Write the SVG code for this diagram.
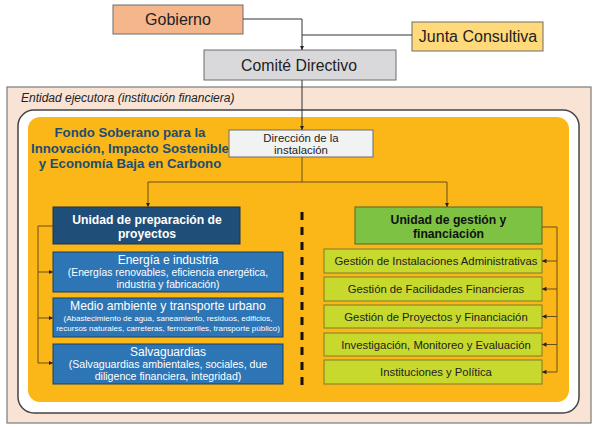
<svg xmlns="http://www.w3.org/2000/svg" width="600" height="427" viewBox="0 0 600 427">
<defs>
<style>
text{font-family:"Liberation Sans",Arial,Helvetica,sans-serif;}
.c{text-anchor:middle;}
.box{stroke:#6d6d6d;stroke-width:1;}
.blue{fill:#2e75b6;stroke:#1b3f63;stroke-width:1;}
.lime{fill:#c7d92c;stroke:#7f7a2a;stroke-width:1;}
.wt{fill:#ffffff;}
.lt{font-size:11.3px;fill:#222;text-anchor:middle;}
.conn{fill:none;stroke:#333;stroke-width:1;}
.conn2{fill:none;stroke:#6b4e16;stroke-width:1;}
</style>
<marker id="ar" viewBox="0 0 10 10" refX="10" refY="5" markerWidth="4.5" markerHeight="4.5" orient="auto">
<path d="M0,0 L10,5 L0,10 z" fill="#222"/>
</marker>
</defs>
<rect width="600" height="427" fill="#ffffff"/>
<!-- containers -->
<g id="entidad">
<rect x="7" y="87" width="584" height="336" fill="#f8e3d5" stroke="#7a7a7a" stroke-width="1.2"/>
<text x="21" y="102" font-size="12" font-style="italic" fill="#222">Entidad ejecutora (institución financiera)</text>
</g>
<rect x="18" y="110" width="561" height="303" rx="16" fill="#ffffff" stroke="#444" stroke-width="1.5"/>
<g id="fondo">
<rect x="28" y="117" width="541" height="285" rx="12" fill="#fbb617"/>
<text class="c" font-size="13.2" font-weight="bold" fill="#1b4e72"><tspan x="130" y="137">Fondo Soberano para la</tspan><tspan x="130" y="152.5">Innovación, Impacto Sostenible</tspan><tspan x="130" y="168">y Economía Baja en Carbono</tspan></text>
</g>
<g id="gobierno">
<rect class="box" x="113" y="5" width="130" height="29" fill="#f5b68c"/>
<text class="c" x="178" y="25" font-size="16" fill="#222">Gobierno</text>
</g>
<g id="junta">
<rect class="box" x="412" y="22" width="131" height="29" fill="#ffd97a"/>
<text class="c" x="478" y="42" font-size="16" fill="#222">Junta Consultiva</text>
</g>
<g id="comite">
<rect class="box" x="204" y="50" width="192" height="30" fill="#d9d9dc"/>
<text class="c" x="299" y="70.5" font-size="15.8" fill="#222">Comité Directivo</text>
</g>
<g id="direccion">
<rect class="box" x="229" y="130" width="144" height="27" fill="#f1f2f2"/>
<text class="c" font-size="11.4" fill="#222"><tspan x="301" y="142">Dirección de la</tspan><tspan x="301" y="154">instalación</tspan></text>
</g>
<g id="unidad-prep">
<rect x="53" y="207" width="187" height="37" fill="#1f4e79" stroke="#1a3550" stroke-width="1"/>
<text class="c" font-size="12.2" font-weight="bold" fill="#fff"><tspan x="147" y="224">Unidad de preparación de</tspan><tspan x="147" y="238">proyectos</tspan></text>
</g>
<g id="energia">
<rect class="blue" x="53" y="252" width="230" height="40"/>
<text class="c wt" x="168" y="264" font-size="12">Energía e industria</text>
<text class="c wt" font-size="10.3"><tspan x="168" y="276">(Energías renovables, eficiencia energética,</tspan><tspan x="168" y="288">industria y fabricación)</tspan></text>
</g>
<g id="medio">
<rect class="blue" x="53" y="298" width="230" height="39"/>
<text class="c wt" x="168" y="310" font-size="12.2">Medio ambiente y transporte urbano</text>
<text class="c wt" font-size="8"><tspan x="168" y="320.5">(Abastecimiento de agua, saneamiento, residuos, edificios,</tspan><tspan x="168" y="330.5">recursos naturales, carreteras, ferrocarriles, transporte público)</tspan></text>
</g>
<g id="salvaguardias">
<rect class="blue" x="53" y="344" width="230" height="40"/>
<text class="c wt" x="168" y="356" font-size="12">Salvaguardias</text>
<text class="c wt" font-size="10.6"><tspan x="168" y="368">(Salvaguardias ambientales, sociales, due</tspan><tspan x="168" y="380">diligence financiera, integridad)</tspan></text>
</g>
<g id="unidad-gest">
<rect x="355" y="207" width="187" height="37" fill="#7dc242" stroke="#4d6b2a" stroke-width="1"/>
<text class="c" font-size="12.2" font-weight="bold" fill="#111"><tspan x="448.5" y="224">Unidad de gestión y</tspan><tspan x="448.5" y="238">financiación</tspan></text>
</g>
<g id="g1">
<rect class="lime" x="324" y="249" width="218" height="24"/>
<text class="lt" x="436" y="265">Gestión de Instalaciones Administrativas</text>
</g>
<g id="g2">
<rect class="lime" x="324" y="277" width="218" height="24"/>
<text class="lt" x="436" y="293">Gestión de Facilidades Financieras</text>
</g>
<g id="g3">
<rect class="lime" x="324" y="305" width="218" height="23"/>
<text class="lt" x="436" y="320.5">Gestión de Proyectos y Financiación</text>
</g>
<g id="g4">
<rect class="lime" x="324" y="333" width="218" height="23"/>
<text class="lt" x="436" y="348.5">Investigación, Monitoreo y Evaluación</text>
</g>
<g id="g5">
<rect class="lime" x="324" y="360" width="218" height="24"/>
<text class="lt" x="436" y="376">Instituciones y Política</text>
</g>
<g id="connectors">
<path class="conn" d="M243,19 H302 V50" marker-end="url(#ar)"/>
<path class="conn" d="M412,35 H302"/>
<path class="conn" d="M302,80 V130" marker-end="url(#ar)"/>
<path class="conn2" d="M302,157 V182"/>
<path class="conn2" d="M148,182 H447"/>
<path class="conn2" d="M148,182 V207" marker-end="url(#ar)"/>
<path class="conn2" d="M447,182 V207" marker-end="url(#ar)"/>
<path class="conn2" d="M53,226 H38 V363"/>
<path class="conn2" d="M38,272 H53" marker-end="url(#ar)"/>
<path class="conn2" d="M38,318 H53" marker-end="url(#ar)"/>
<path class="conn2" d="M38,363 H53" marker-end="url(#ar)"/>
<path class="conn2" d="M542,227 H557 V372"/>
<path class="conn2" d="M557,261 H542" marker-end="url(#ar)"/>
<path class="conn2" d="M557,289 H542" marker-end="url(#ar)"/>
<path class="conn2" d="M557,316.5 H542" marker-end="url(#ar)"/>
<path class="conn2" d="M557,344.5 H542" marker-end="url(#ar)"/>
<path class="conn2" d="M557,372 H542" marker-end="url(#ar)"/>
<path d="M302,212 V387" fill="none" stroke="#111" stroke-width="3" stroke-dasharray="8 7"/>
</g>
</svg>
